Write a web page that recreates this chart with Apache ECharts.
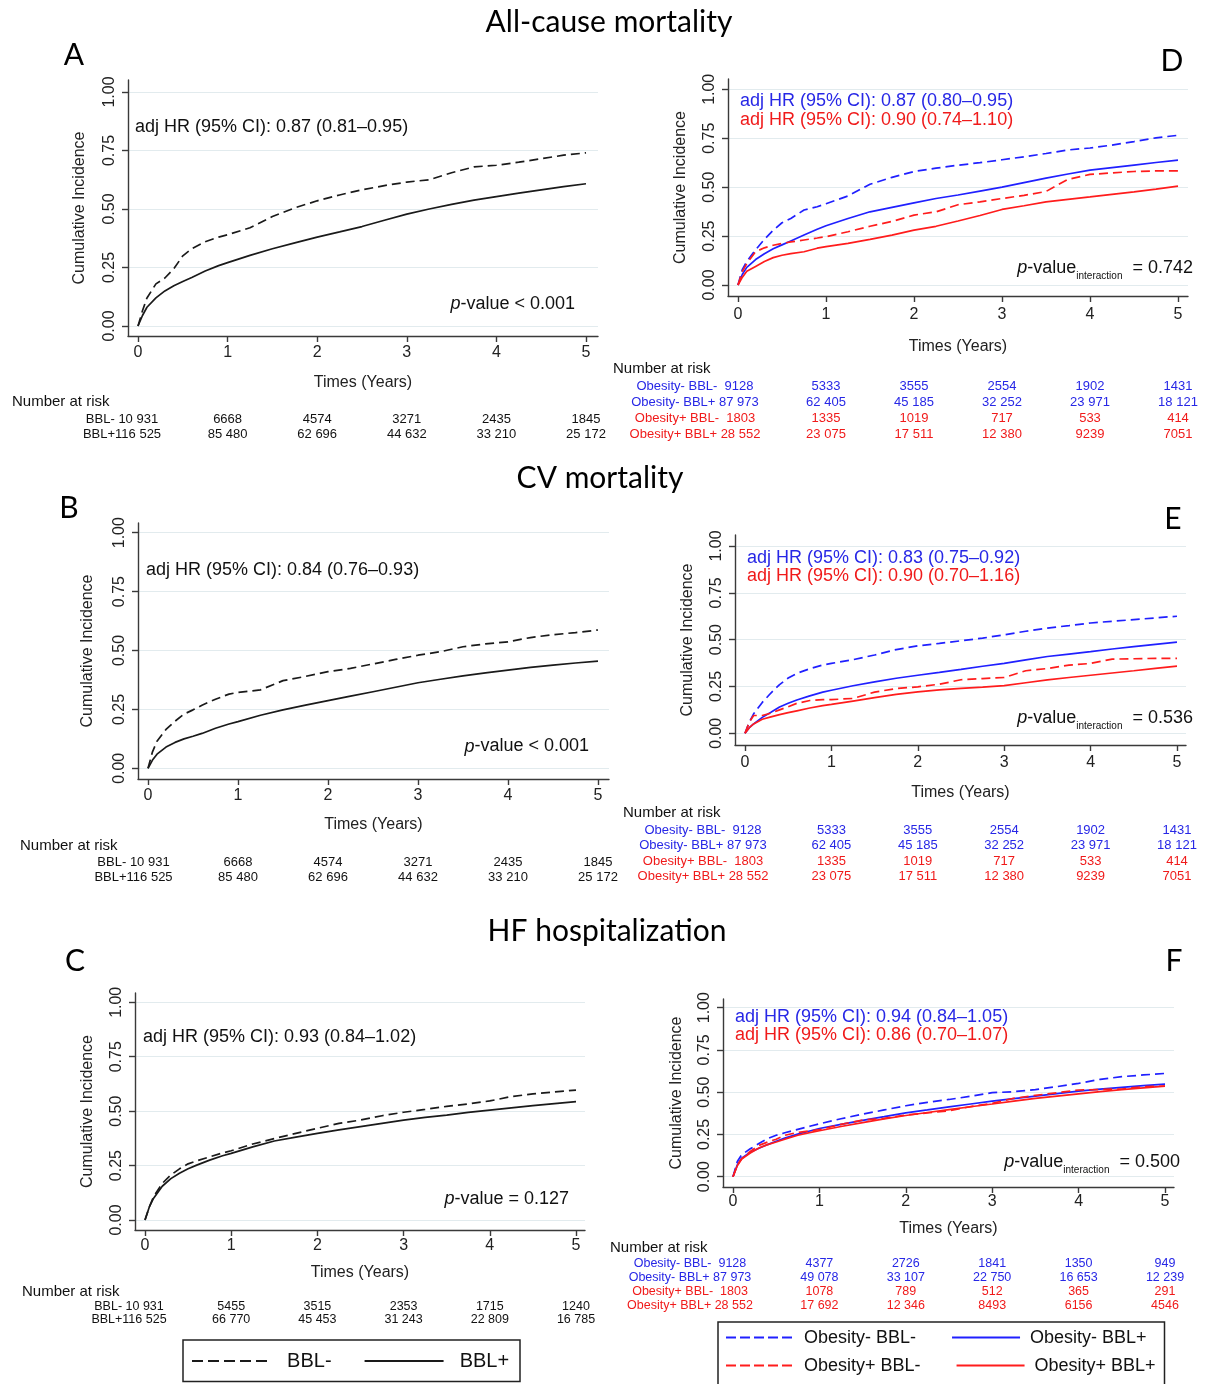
<!DOCTYPE html>
<html><head><meta charset="utf-8">
<script src="https://cdn.jsdelivr.net/npm/echarts@6/dist/echarts.min.js"></script>
<style>html,body{margin:0;padding:0;background:#fff}#c{width:1205px;height:1384px}</style>
</head><body><div id="c"></div>
<script>
// ---------------- DATA ----------------
const T = [0,0.05,0.1,0.2,0.3,0.4,0.5,0.6,0.75,0.9,1,1.25,1.5,1.75,2,2.25,2.5,2.75,3,3.25,3.5,3.75,4,4.25,4.5,4.75,5];
const xTickValues = [0,1,2,3,4,5];
const yTickValues = [0,0.25,0.5,0.75,1];
const yTickLabels = ['0.00','0.25','0.50','0.75','1.00'];
const riskTimes = [0,1,2,3,4,5];

// A: all-cause mortality
const aBBLneg = [0,.065,.12,.18,.205,.245,.30,.33,.36,.38,.39,.42,.468,.505,.535,.56,.582,.60,.615,.625,.655,.68,.687,.70,.715,.73,.74];
const aBBLpos = [0,.045,.08,.12,.15,.172,.19,.207,.235,.258,.271,.302,.33,.355,.38,.402,.425,.452,.478,.5,.52,.538,.553,.568,.582,.596,.608];
// B: CV mortality
const bBBLneg = [0,.07,.115,.165,.2,.23,.248,.268,.293,.315,.322,.333,.372,.39,.41,.424,.443,.462,.48,.495,.516,.528,.537,.555,.567,.576,.587];
const bBBLpos = [0,.035,.06,.09,.11,.125,.136,.148,.17,.188,.198,.225,.248,.268,.287,.306,.325,.344,.363,.378,.392,.405,.417,.428,.438,.447,.455];
// C: HF hospitalization
const cBBLneg = [0,.06,.107,.168,.207,.235,.258,.272,.29,.308,.318,.349,.374,.398,.421,.444,.459,.479,.495,.508,.522,.533,.547,.567,.579,.588,.597];
const cBBLpos = [0,.06,.10,.155,.19,.215,.235,.252,.275,.295,.306,.336,.363,.381,.398,.414,.429,.444,.459,.471,.482,.494,.505,.515,.525,.535,.544];
// D: all-cause mortality by obesity
const dObnBBLneg = [0,.08,.12,.18,.233,.28,.318,.34,.383,.40,.415,.455,.515,.55,.58,.597,.612,.625,.64,.655,.672,.69,.70,.715,.733,.752,.765];
const dObnBBLpos = [0,.055,.09,.13,.16,.185,.205,.225,.255,.285,.303,.34,.374,.397,.42,.442,.46,.48,.50,.523,.546,.567,.587,.60,.613,.626,.638];
const dObpBBLneg = [0,.07,.11,.17,.19,.203,.212,.22,.23,.24,.247,.272,.30,.325,.357,.374,.41,.425,.442,.458,.478,.54,.565,.573,.58,.583,.583];
const dObpBBLpos = [0,.04,.07,.095,.12,.14,.152,.16,.17,.188,.196,.213,.233,.255,.28,.30,.327,.355,.386,.405,.425,.438,.45,.463,.476,.49,.505];
// E: CV mortality by obesity
const eObnBBLneg = [0,.06,.104,.165,.215,.26,.295,.32,.345,.365,.373,.393,.418,.447,.467,.48,.494,.508,.526,.545,.562,.575,.589,.598,.607,.616,.625];
const eObnBBLpos = [0,.03,.05,.085,.112,.14,.16,.178,.20,.22,.23,.254,.275,.294,.31,.325,.341,.358,.373,.392,.41,.423,.436,.45,.463,.475,.487];
const eObpBBLneg = [0,.06,.095,.095,.108,.125,.142,.16,.175,.18,.18,.186,.22,.239,.248,.262,.286,.292,.298,.334,.346,.364,.373,.396,.398,.40,.40];
const eObpBBLpos = [0,.03,.05,.075,.088,.10,.11,.12,.135,.148,.154,.172,.19,.208,.221,.232,.24,.247,.255,.27,.285,.298,.31,.322,.334,.347,.359];
// F: HF hospitalization by obesity
const fObnBBLneg = [0,.09,.13,.165,.196,.225,.245,.26,.28,.30,.313,.343,.37,.395,.42,.44,.457,.476,.497,.503,.515,.533,.552,.576,.592,.602,.611];
const fObnBBLpos = [0,.07,.11,.145,.168,.19,.21,.228,.252,.272,.285,.31,.333,.355,.378,.395,.413,.43,.447,.462,.477,.492,.506,.518,.529,.539,.548];
const fObpBBLneg = [0,.07,.105,.15,.185,.205,.222,.245,.262,.272,.278,.31,.335,.345,.365,.377,.39,.415,.434,.464,.481,.497,.513,.516,.519,.533,.536];
const fObpBBLpos = [0,.065,.105,.14,.17,.19,.205,.222,.245,.262,.272,.297,.32,.342,.362,.38,.397,.414,.43,.447,.463,.477,.49,.503,.515,.526,.536];

// Numbers at risk
const riskAB_BBLneg = [10931,6668,4574,3271,2435,1845];
const riskAB_BBLpos = [116525,85480,62696,44632,33210,25172];
const riskC_BBLneg = [10931,5455,3515,2353,1715,1240];
const riskC_BBLpos = [116525,66770,45453,31243,22809,16785];
const riskDE_ObnBBLneg = [9128,5333,3555,2554,1902,1431];
const riskDE_ObnBBLpos = [87973,62405,45185,32252,23971,18121];
const riskDE_ObpBBLneg = [1803,1335,1019,717,533,414];
const riskDE_ObpBBLpos = [28552,23075,17511,12380,9239,7051];
const riskF_ObnBBLneg = [9128,4377,2726,1841,1350,949];
const riskF_ObnBBLpos = [87973,49078,33107,22750,16653,12239];
const riskF_ObpBBLneg = [1803,1078,789,512,365,291];
const riskF_ObpBBLpos = [28552,17692,12346,8493,6156,4546];

const hrA = 'adj HR (95% CI): 0.87 (0.81\u20130.95)';
const hrB = 'adj HR (95% CI): 0.84 (0.76\u20130.93)';
const hrC = 'adj HR (95% CI): 0.93 (0.84\u20131.02)';
const hrD = ['adj HR (95% CI): 0.87 (0.80\u20130.95)', 'adj HR (95% CI): 0.90 (0.74\u20131.10)'];
const hrE = ['adj HR (95% CI): 0.83 (0.75\u20130.92)', 'adj HR (95% CI): 0.90 (0.70\u20131.16)'];
const hrF = ['adj HR (95% CI): 0.94 (0.84\u20131.05)', 'adj HR (95% CI): 0.86 (0.70\u20131.07)'];
const pA = ' < 0.001', pB = ' < 0.001', pC = ' = 0.127';
const pD = ' = 0.742', pE = ' = 0.536', pF = ' = 0.500';

// ---------------- STYLE / LAYOUT ----------------
function hasFont(name){
  const ctx=document.createElement('canvas').getContext('2d');
  const s='abcdefghijklmnopqrstuvwxyz0123456789ABCDEF';
  ctx.font='40px monospace'; const a=ctx.measureText(s).width;
  ctx.font="40px '"+name+"', monospace"; const b=ctx.measureText(s).width;
  return Math.abs(a-b)>0.5;
}
const NARROW = hasFont('Liberation Sans Narrow');
const SANS = "'Liberation Sans', Arial, Helvetica, sans-serif";
const NARROWF = NARROW ? "'Liberation Sans Narrow', 'Liberation Sans', sans-serif" : SANS;
const TITLEF = "Lato, 'Open Sans', sans-serif";
const BLACK='#1a1a1a', BLUE='#2020ff', RED='#ff1c1c', BLUE_T='#2727e6', RED_T='#f01a1a', TXT='#111';
const AXISC='#3a3a3a', GRIDC='#e2ebee';

const panels = [
  {geo:{x0:138,x5:586,y0:326,y1:92,L:128,R:598,T:80,B:336}, xGap:39, yGap:40, xMargin:9,
   series:[{name:'BBL-',v:aBBLneg,c:BLACK,d:true},{name:'BBL+',v:aBBLpos,c:BLACK,d:false}]},
  {geo:{x0:148,x5:598,y0:768.3,y1:532.7,L:138,R:609,T:523,B:779}, xGap:38, yGap:42, xMargin:9,
   series:[{name:'BBL-',v:bBBLneg,c:BLACK,d:true},{name:'BBL+',v:bBBLpos,c:BLACK,d:false}]},
  {geo:{x0:145,x5:576,y0:1220,y1:1002.3,L:135,R:585,T:993,B:1230}, xGap:35, yGap:39, xMargin:8,
   series:[{name:'BBL-',v:cBBLneg,c:BLACK,d:true},{name:'BBL+',v:cBBLpos,c:BLACK,d:false}]},
  {geo:{x0:738,x5:1178,y0:285,y1:89.3,L:728,R:1188,T:79,B:296}, xGap:43, yGap:39, xMargin:11,
   series:[{name:'Obesity- BBL-',v:dObnBBLneg,c:BLUE,d:true},{name:'Obesity- BBL+',v:dObnBBLpos,c:BLUE,d:false},
           {name:'Obesity+ BBL-',v:dObpBBLneg,c:RED,d:true},{name:'Obesity+ BBL+',v:dObpBBLpos,c:RED,d:false}]},
  {geo:{x0:745,x5:1177,y0:733.3,y1:546,L:735,R:1186,T:535,B:745}, xGap:40, yGap:39, xMargin:10,
   series:[{name:'Obesity- BBL-',v:eObnBBLneg,c:BLUE,d:true},{name:'Obesity- BBL+',v:eObnBBLpos,c:BLUE,d:false},
           {name:'Obesity+ BBL-',v:eObpBBLneg,c:RED,d:true},{name:'Obesity+ BBL+',v:eObpBBLpos,c:RED,d:false}]},
  {geo:{x0:733,x5:1165,y0:1176.7,y1:1007.7,L:723,R:1174,T:999,B:1187}, xGap:34, yGap:38, xMargin:7,
   series:[{name:'Obesity- BBL-',v:fObnBBLneg,c:BLUE,d:true},{name:'Obesity- BBL+',v:fObnBBLpos,c:BLUE,d:false},
           {name:'Obesity+ BBL-',v:fObpBBLneg,c:RED,d:true},{name:'Obesity+ BBL+',v:fObpBBLpos,c:RED,d:false}]}
];

const grids=[], xAxes=[], yAxes=[], series=[];
panels.forEach((p,i)=>{
  const g=p.geo, sx=(g.x5-g.x0)/5, sy=(g.y0-g.y1);
  grids.push({left:g.L, top:g.T, width:g.R-g.L, height:g.B-g.T, containLabel:false, outerBoundsMode:'none'});
  xAxes.push({type:'value', gridIndex:i, min:(g.L-g.x0)/sx, max:5+(g.R-g.x5)/sx,
    axisLine:{show:true,onZero:false,lineStyle:{color:AXISC,width:1.4}},
    axisTick:{show:true,length:6,customValues:xTickValues,lineStyle:{color:AXISC,width:1.4}},
    axisLabel:{customValues:xTickValues,fontSize:16,fontFamily:SANS,color:'#222',margin:p.xMargin,formatter:v=>String(v)},
    splitLine:{show:false},
    name:'Times (Years)', nameLocation:'middle', nameGap:p.xGap, nameMoveOverlap:false,
    nameTextStyle:{fontSize:16,fontFamily:SANS,color:'#222'}});
  yAxes.push({type:'value', gridIndex:i, min:-(g.B-g.y0)/sy, max:(g.y0-g.T)/sy,
    axisLine:{show:true,onZero:false,lineStyle:{color:AXISC,width:1.4}},
    axisTick:{show:true,length:6,customValues:yTickValues,lineStyle:{color:AXISC,width:1.4}},
    axisLabel:{customValues:yTickValues,rotate:90,fontSize:16,fontFamily:SANS,color:'#222',margin:10,
      formatter:v=>{const k=yTickValues.findIndex(t=>Math.abs(t-v)<1e-9);return k>=0?yTickLabels[k]:'';}},
    splitLine:{show:true,lineStyle:{color:GRIDC,width:1.2}},
    name:'Cumulative Incidence', nameLocation:'middle', nameGap:p.yGap, nameMoveOverlap:false,
    nameTextStyle:{fontSize:16,fontFamily:SANS,color:'#222'}});
  p.series.forEach(s=>{
    series.push({type:'line', name:s.name, xAxisIndex:i, yAxisIndex:i,
      data:T.map((t,k)=>[t,s.v[k]]), symbol:'none', showSymbol:false, silent:true,
      lineStyle:{color:s.c,width:1.7,type:s.d?[9,5]:'solid'}, itemStyle:{color:s.c}});
  });
});

const LEGF_L = NARROW ? 24 : 20, LEGF_R = NARROW ? 22 : 18;
const hideSym = {opacity:0, borderWidth:0};
const option = {
  animation:false, backgroundColor:'#fff',
  grid:grids, xAxis:xAxes, yAxis:yAxes, series:series,
  legend:[
    {data:[{name:'BBL-',lineStyle:{type:[11,5],width:2}},{name:'BBL+',lineStyle:{width:2}}],
     left:191, top:1351, padding:0, itemWidth:79, itemHeight:24, itemGap:32, selectedMode:false, itemStyle:hideSym,
     formatter:n=>'  '+n, textStyle:{fontSize:LEGF_L,fontFamily:NARROWF,color:TXT}},
    {data:[{name:'Obesity- BBL-',lineStyle:{type:[10,4],width:2}},{name:'Obesity- BBL+',lineStyle:{width:2}}],
     left:725, top:1328, padding:0, itemWidth:68, itemHeight:24, itemGap:35, selectedMode:false, itemStyle:hideSym,
     formatter:n=>' '+n, textStyle:{fontSize:LEGF_R,fontFamily:NARROWF,color:TXT}},
    {data:[{name:'Obesity+ BBL-',lineStyle:{type:[10,4],width:2}},{name:'Obesity+ BBL+',lineStyle:{width:2}}],
     left:725, top:1356, padding:0, itemWidth:68, itemHeight:24, itemGap:35, selectedMode:false, itemStyle:hideSym,
     formatter:n=>' '+n, textStyle:{fontSize:LEGF_R,fontFamily:NARROWF,color:TXT}}
  ]
};

const chart = echarts.init(document.getElementById('c'), null, {renderer:'canvas'});
chart.setOption(option);

// ---------------- ANNOTATIONS ----------------
const G=[];
function text(x,y,str,o){
  o=o||{};
  G.push({type:'text', x:x, y:y, silent:true, style:{text:str, fill:o.fill||TXT, fontSize:o.size||16,
    fontFamily:o.family||SANS, fontWeight:'normal', textAlign:o.align||'left',
    textVerticalAlign:'middle', verticalAlign:'middle'}});
}
function ptext(xr,y,val,sub){
  const base={fontSize:18,fontFamily:SANS,fill:TXT,lineHeight:26};
  const rich={i:Object.assign({},base,{fontStyle:'italic'}), n:base,
              s:{fontSize:10,fontFamily:SANS,fill:TXT,lineHeight:12,verticalAlign:'bottom'}};
  const str='{i|p}{n|-value}'+(sub?'{s|interaction}{n| '+val+'}':'{n|'+val+'}');
  G.push({type:'text', x:xr, y:y, silent:true, style:{text:str, rich:rich, textAlign:'right',
    textVerticalAlign:'middle', verticalAlign:'middle', fontSize:18, fontFamily:SANS}});
}
function fmt(n){ return n>=10000 ? String(n).replace(/\B(?=(\d{3})+(?!\d))/g,' ') : String(n); }
function first(lbl,n){ return lbl + (n>=100000?'':(n>=10000?' ':'  ')) + fmt(n); }
const RISKF = NARROW ? 14.5 : 13, RISKF_S = NARROW ? 14 : 12.5;
function riskTable(i, labelX, headY, rows, firstOff, size){
  text(labelX, headY, 'Number at risk', {size:15});
  rows.forEach(r=>{
    riskTimes.forEach((t,k)=>{
      const x = chart.convertToPixel({gridIndex:i},[t,0])[0];
      const s = k===0 ? first(r.lbl, r.v[0]) : fmt(r.v[k]);
      text(k===0 ? x+firstOff : x, r.y, s, {size:size, family:NARROWF, fill:r.c, align:'center'});
    });
  });
}

// titles & panel letters
text(609,22,'All-cause mortality',{size:30,family:TITLEF,align:'center',fill:'#000'});
text(600,478,'CV mortality',{size:30,family:TITLEF,align:'center',fill:'#000'});
text(607,931,'HF hospitalization',{size:30,family:TITLEF,align:'center',fill:'#000'});
[['A',74,55],['D',1172,61],['B',69,508],['E',1173,519],['C',75,961],['F',1174,961]].forEach(a=>
  text(a[1],a[2],a[0],{size:30,family:TITLEF,align:'center',fill:'#000'}));

// HR texts
text(135,127,hrA,{size:18});
text(146,570,hrB,{size:18});
text(143,1037,hrC,{size:18});
text(740,101.5,hrD[0],{size:18,fill:BLUE_T}); text(740,120.5,hrD[1],{size:18,fill:RED_T});
text(747,558,hrE[0],{size:18,fill:BLUE_T});   text(747,576,hrE[1],{size:18,fill:RED_T});
text(735,1017.5,hrF[0],{size:18,fill:BLUE_T}); text(735,1035,hrF[1],{size:18,fill:RED_T});

// p-values
ptext(575,304,pA,false);
ptext(589,746.5,pB,false);
ptext(569,1199,pC,false);
ptext(1193,268,pD,true);
ptext(1193,718,pE,true);
ptext(1180,1162,pF,true);

// risk tables
riskTable(0,12,402,[{lbl:'BBL-',v:riskAB_BBLneg,y:419.5,c:TXT},{lbl:'BBL+',v:riskAB_BBLpos,y:434.5,c:TXT}],-16,RISKF);
riskTable(1,20,846,[{lbl:'BBL-',v:riskAB_BBLneg,y:862.5,c:TXT},{lbl:'BBL+',v:riskAB_BBLpos,y:877.5,c:TXT}],-14.5,RISKF);
riskTable(2,22,1292,[{lbl:'BBL-',v:riskC_BBLneg,y:1306.5,c:TXT},{lbl:'BBL+',v:riskC_BBLpos,y:1320,c:TXT}],-16,RISKF_S);
riskTable(3,613,368.5,[{lbl:'Obesity- BBL-',v:riskDE_ObnBBLneg,y:386,c:BLUE_T},{lbl:'Obesity- BBL+',v:riskDE_ObnBBLpos,y:402,c:BLUE_T},
  {lbl:'Obesity+ BBL-',v:riskDE_ObpBBLneg,y:418,c:RED_T},{lbl:'Obesity+ BBL+',v:riskDE_ObpBBLpos,y:434,c:RED_T}],-43,RISKF);
riskTable(4,623,813,[{lbl:'Obesity- BBL-',v:riskDE_ObnBBLneg,y:830.5,c:BLUE_T},{lbl:'Obesity- BBL+',v:riskDE_ObnBBLpos,y:845.5,c:BLUE_T},
  {lbl:'Obesity+ BBL-',v:riskDE_ObpBBLneg,y:861,c:RED_T},{lbl:'Obesity+ BBL+',v:riskDE_ObpBBLpos,y:876.5,c:RED_T}],-42,RISKF);
riskTable(5,610,1247.5,[{lbl:'Obesity- BBL-',v:riskF_ObnBBLneg,y:1263.5,c:BLUE_T},{lbl:'Obesity- BBL+',v:riskF_ObnBBLpos,y:1277.5,c:BLUE_T},
  {lbl:'Obesity+ BBL-',v:riskF_ObpBBLneg,y:1291.5,c:RED_T},{lbl:'Obesity+ BBL+',v:riskF_ObpBBLpos,y:1305.5,c:RED_T}],-43,RISKF_S);

// legend frames
G.push({type:'rect', silent:true, shape:{x:183,y:1340,width:337,height:41.5}, style:{fill:'none',stroke:'#222',lineWidth:1.5}});
G.push({type:'rect', silent:true, shape:{x:718,y:1322,width:446.5,height:80}, style:{fill:'none',stroke:'#222',lineWidth:1.5}});

chart.setOption({graphic:G});
</script>
</body></html>
